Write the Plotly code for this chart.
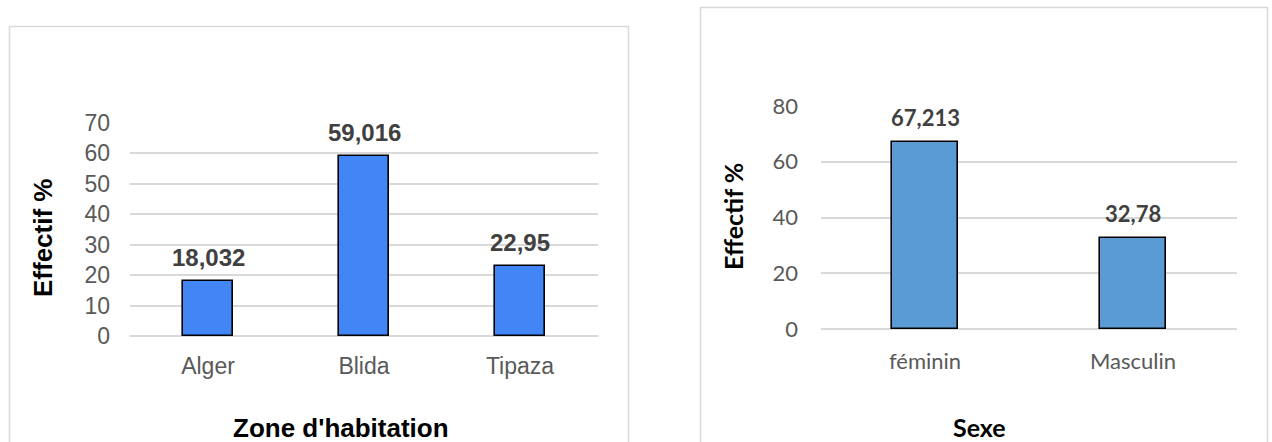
import plotly.graph_objects as go

# Répartition par zone d'habitation (%)
zones = ["Alger", "Blida", "Tipaza"]
zone_pct = [18.032, 59.016, 22.95]

# Répartition par sexe (%)
sexes = ["féminin", "Masculin"]
sexe_pct = [67.213, 32.78]

W, H = 1272, 442


def px_x(x):
    return x / W


def px_y(y):
    return 1 - y / H


def fr(v):
    return str(v).replace(".", ",")


fig = go.Figure()

fig.add_trace(go.Bar(
    x=zones, y=zone_pct, xaxis="x", yaxis="y", width=0.32,
    marker=dict(color="#4285F4", line=dict(color="#000000", width=1.6)),
    hoverinfo="skip",
))
fig.add_trace(go.Bar(
    x=sexes, y=sexe_pct, xaxis="x2", yaxis="y2", width=0.317,
    marker=dict(color="#5B9BD5", line=dict(color="#000000", width=1.6)),
    hoverinfo="skip",
))

grid = "#D9D9D9"
left_font = "Liberation Sans, Arial, sans-serif"
right_font = "Lato, Open Sans, sans-serif"

fig.update_layout(
    template="none",
    width=W, height=H,
    margin=dict(l=0, r=0, t=0, b=0, pad=0),
    paper_bgcolor="white", plot_bgcolor="white",
    showlegend=False,
    bargap=0,
    xaxis=dict(
        domain=[px_x(130), px_x(598)], anchor="y", automargin=False,
        showgrid=False, showline=False, zeroline=False,
        ticks="outside", ticklen=9, tickcolor="rgba(0,0,0,0)",
        tickfont=dict(family=left_font, size=23, color="#595959"),
    ),
    yaxis=dict(
        domain=[px_y(336), px_y(123)], anchor="x", automargin=False,
        range=[0, 70], tickvals=[0, 10, 20, 30, 40, 50, 60, 70],
        showgrid=True, gridcolor=grid, gridwidth=1.5,
        zeroline=True, zerolinecolor=grid, zerolinewidth=1.5,
        showline=False, ticks="", ticklabelstandoff=19,
        tickfont=dict(family=left_font, size=23, color="#595959"),
    ),
    xaxis2=dict(
        domain=[px_x(821), px_x(1237)], anchor="y2", automargin=False,
        showgrid=False, showline=False, zeroline=False,
        ticks="outside", ticklen=13, tickcolor="rgba(0,0,0,0)",
        tickfont=dict(family=right_font, size=22, color="#595959"),
    ),
    yaxis2=dict(
        domain=[px_y(329), px_y(106)], anchor="x2", automargin=False,
        range=[0, 80], tickvals=[0, 20, 40, 60, 80],
        showgrid=True, gridcolor=grid, gridwidth=1.5,
        zeroline=True, zerolinecolor=grid, zerolinewidth=1.5,
        showline=False, ticks="", ticklabelstandoff=22,
        tickfont=dict(family=right_font, size=22, color="#595959"),
    ),
)

annotations = []
# Étiquettes de valeurs au-dessus des barres
for cat, v in zip(zones, zone_pct):
    annotations.append(dict(
        x=cat, y=v, xref="x", yref="y", text=f"<b>{fr(v)}</b>",
        showarrow=False, yanchor="middle", yshift=24,
        font=dict(family=left_font, size=24, color="#404040"),
    ))
for cat, v in zip(sexes, sexe_pct):
    annotations.append(dict(
        x=cat, y=v, xref="x2", yref="y2", text=f"<b>{fr(v)}</b>",
        showarrow=False, yanchor="middle", yshift=24,
        font=dict(family=right_font, size=22, color="#404040"),
    ))

# Titres des axes
annotations += [
    dict(x=px_x(43), y=px_y(238), xref="paper", yref="paper",
         text="<b>Effectif %</b>", textangle=-90, showarrow=False,
         xanchor="center", yanchor="middle",
         font=dict(family=left_font, size=26, color="#000000")),
    dict(x=px_x(341), y=px_y(428), xref="paper", yref="paper",
         text="<b>Zone d'habitation</b>", showarrow=False,
         xanchor="center", yanchor="middle",
         font=dict(family=left_font, size=26, color="#000000")),
    dict(x=px_x(733), y=px_y(217), xref="paper", yref="paper",
         text="<b>Effectif %</b>", textangle=-90, showarrow=False,
         xanchor="center", yanchor="middle",
         font=dict(family=right_font, size=25, color="#000000")),
    dict(x=px_x(979), y=px_y(427), xref="paper", yref="paper",
         text="<b>Sexe</b>", showarrow=False,
         xanchor="center", yanchor="middle",
         font=dict(family=right_font, size=25, color="#000000")),
]
fig.update_layout(annotations=annotations)

# Cadres des deux graphiques
frame = dict(color="#D9D9D9", width=1.5)
fig.add_shape(type="rect", xref="paper", yref="paper",
              x0=px_x(9.5), x1=px_x(628.5), y0=px_y(450), y1=px_y(26.5),
              line=frame, fillcolor="rgba(0,0,0,0)", layer="below")
fig.add_shape(type="rect", xref="paper", yref="paper",
              x0=px_x(700.5), x1=px_x(1267.5), y0=px_y(450), y1=px_y(7.5),
              line=frame, fillcolor="rgba(0,0,0,0)", layer="below")

fig.write_html("out.html", config={"displayModeBar": False})
